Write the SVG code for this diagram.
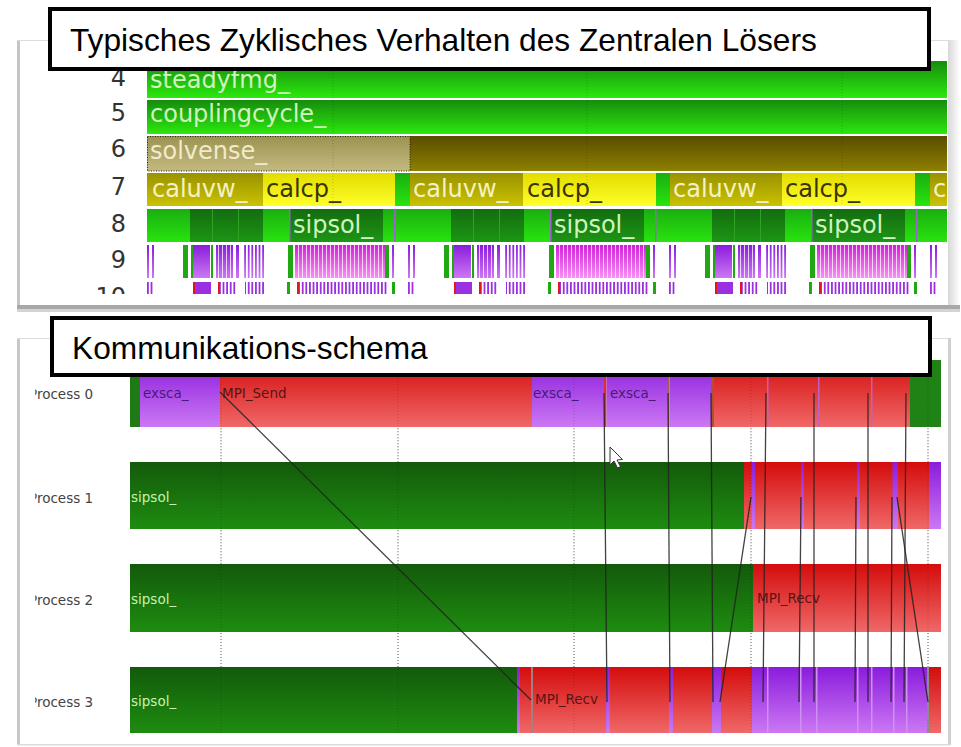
<svg xmlns="http://www.w3.org/2000/svg" width="961" height="747" viewBox="0 0 961 747">
<style>
  .title { font-family: "Liberation Sans", Arial, sans-serif; font-size: 31.7px; fill: #000; }
  .tbox { fill: #fff; stroke: #000; stroke-width: 4; }
  .num { font-family: "DejaVu Sans", sans-serif; font-size: 24px; fill: #333; text-anchor: end; }
  .bl { font-family: "DejaVu Sans", sans-serif; font-size: 24px; }
  .lg { fill: #cff5bf; }
  .lk { fill: #efebcc; }
  .ly { fill: #f4f2c4; }
  .ld { fill: #3a3400; }
  .pl { font-family: "DejaVu Sans", sans-serif; font-size: 13.5px; fill: #444; }
  .sl { font-family: "DejaVu Sans", sans-serif; font-size: 13.5px; }
  .sg { fill: #c8f0b0; }
  .sp { fill: #4a1a78; }
  .sr { fill: #5a1414; }
  .grid { stroke: #777; stroke-width: 1; stroke-dasharray: 1 2; }
  .gridf { stroke: #000; stroke-width: 1; stroke-dasharray: 1 2; opacity: 0.18; }
  .msg line { stroke: #222; stroke-width: 1.3; opacity: 0.85; }
</style>
<defs>
  <linearGradient id="gBright" x1="0" y1="0" x2="0" y2="1"><stop offset="0" stop-color="#178c0c"/><stop offset="1" stop-color="#2be80e"/></linearGradient>
  <linearGradient id="gOlive" x1="0" y1="0" x2="0" y2="1"><stop offset="0" stop-color="#5a4c00"/><stop offset="1" stop-color="#8e8000"/></linearGradient>
  <linearGradient id="gKhaki" x1="0" y1="0" x2="0" y2="1"><stop offset="0" stop-color="#9c9250"/><stop offset="1" stop-color="#c4ba80"/></linearGradient>
  <linearGradient id="gCaluvw" x1="0" y1="0" x2="0" y2="1"><stop offset="0" stop-color="#9a9200"/><stop offset="1" stop-color="#cac200"/></linearGradient>
  <linearGradient id="gCalcp" x1="0" y1="0" x2="0" y2="1"><stop offset="0" stop-color="#e2dc00"/><stop offset="1" stop-color="#ffff2a"/></linearGradient>
  <linearGradient id="gLime" x1="0" y1="0" x2="0" y2="1"><stop offset="0" stop-color="#1aae10"/><stop offset="1" stop-color="#28e40e"/></linearGradient>
  <linearGradient id="gDark" x1="0" y1="0" x2="0" y2="1"><stop offset="0" stop-color="#136c10"/><stop offset="1" stop-color="#1c9614"/></linearGradient>
  <linearGradient id="gPurple" x1="0" y1="0" x2="0" y2="1"><stop offset="0" stop-color="#8a1cdc"/><stop offset="1" stop-color="#cc78f4"/></linearGradient>
  <linearGradient id="gMagenta" x1="0" y1="0" x2="0" y2="1"><stop offset="0" stop-color="#d020d8"/><stop offset="1" stop-color="#f890f4"/></linearGradient>
  <linearGradient id="gRed" x1="0" y1="0" x2="0" y2="1"><stop offset="0" stop-color="#d40c0c"/><stop offset="1" stop-color="#f06868"/></linearGradient>
  <linearGradient id="gSip" x1="0" y1="0" x2="0" y2="1"><stop offset="0" stop-color="#135a0b"/><stop offset="1" stop-color="#1e8c10"/></linearGradient>
  <linearGradient id="gEdge" x1="0" y1="0" x2="1" y2="0"><stop offset="0" stop-color="#d8d8d8"/><stop offset="1" stop-color="#ffffff"/></linearGradient>

  <pattern id="gaps" width="4" height="10" patternUnits="userSpaceOnUse"><rect x="3" y="0" width="1" height="10" fill="#fff" opacity="0.75"/></pattern>
  <pattern id="gapsWide" width="3.6" height="10" patternUnits="userSpaceOnUse"><rect x="1.8" y="0" width="1.8" height="10" fill="#fff"/></pattern>

  <clipPath id="clipTrace"><rect x="147" y="56" width="800" height="238"/></clipPath>
  <clipPath id="clipNums"><rect x="60" y="56" width="80" height="238"/></clipPath>
  <clipPath id="clipProc"><rect x="35.2" y="340" width="90" height="400"/></clipPath>

  <!-- one solver cycle of rows 8-10, placed once per cycle -->
  <g id="cycle">
    <!-- row 8 -->
    <rect x="43" y="209" width="73" height="33" fill="url(#gDark)"/>
    <rect x="65" y="209" width="1" height="33" fill="#32a224"/>
    <rect x="91" y="209" width="1" height="33" fill="#32a224"/>
    <rect x="143" y="209" width="93" height="33" fill="url(#gDark)"/>
    <rect x="142" y="209" width="1.5" height="33" fill="#a060d0"/>
    <rect x="247" y="209" width="1.5" height="33" fill="#a060d0"/>
    <text x="146" y="233" class="bl lg">sipsol_</text>
    <!-- row 9 -->
    <rect x="0" y="245" width="2" height="33" fill="url(#gPurple)"/>
    <rect x="5" y="245" width="2" height="33" fill="url(#gPurple)"/>
    <rect x="36" y="245" width="5" height="33" fill="#20a812"/>
    <rect x="44" y="245" width="2" height="33" fill="#20a812"/>
    <rect x="46" y="245" width="17" height="33" fill="url(#gPurple)"/>
    <rect x="64" y="245" width="2" height="33" fill="#20a812"/>
    <rect x="69" y="245" width="17" height="33" fill="url(#gPurple)"/>
    <rect x="69" y="245" width="17" height="33" fill="url(#gaps)"/>
    <rect x="89" y="245" width="3" height="33" fill="url(#gPurple)"/>
    <rect x="97" y="245" width="21" height="33" fill="url(#gPurple)"/>
    <rect x="97" y="245" width="21" height="33" fill="url(#gapsWide)"/>
    <rect x="141" y="245" width="5" height="33" fill="#20a812"/>
    <rect x="148" y="245" width="90" height="33" fill="url(#gMagenta)"/>
    <rect x="148" y="245" width="90" height="33" fill="url(#gaps)"/>
    <rect x="238" y="245" width="4" height="33" fill="#20a812"/>
    <rect x="245" y="245" width="2" height="33" fill="url(#gPurple)"/>
    <!-- row 10 -->
    <rect x="0" y="282" width="7" height="14" fill="#9a30e0"/>
    <rect x="0" y="282" width="7" height="14" fill="url(#gapsWide)"/>
    <rect x="46" y="282" width="18" height="14" fill="#9a30e0"/>
    <rect x="46" y="282" width="2" height="14" fill="#e01818"/>
    <rect x="71" y="282" width="18" height="14" fill="#9a30e0"/>
    <rect x="71" y="282" width="18" height="14" fill="url(#gapsWide)"/>
    <rect x="71" y="282" width="2" height="14" fill="#e01818"/>
    <rect x="98" y="282" width="20" height="14" fill="#9a30e0"/>
    <rect x="98" y="282" width="20" height="14" fill="url(#gapsWide)"/>
    <rect x="140" y="282" width="3" height="14" fill="#20a812"/>
    <rect x="150" y="282" width="91" height="14" fill="#9a30e0"/>
    <rect x="150" y="282" width="91" height="14" fill="url(#gapsWide)"/>
    <rect x="150" y="282" width="2" height="14" fill="#e01818"/>
    <rect x="245" y="282" width="3" height="14" fill="#20a812"/>
  </g>
</defs>

<rect x="0" y="0" width="961" height="747" fill="#fff"/>

<!-- ===== upper panel: call-stack timeline ===== -->
<g id="panel-trace">
  <rect x="17" y="40" width="931" height="266" fill="#fff"/>
  <rect x="17" y="40" width="3" height="267" fill="#c4c4c4"/>
  <rect x="17" y="40" width="931" height="1" fill="#dcdcdc"/>
  <rect x="948" y="40" width="12" height="267" fill="url(#gEdge)"/>
  <rect x="17" y="305" width="943" height="4" fill="#a8a8a8"/>
  <rect x="17" y="309" width="943" height="3" fill="#d4d4d4"/>
</g>

<g id="depth-labels" clip-path="url(#clipNums)">
  <text x="126" y="86" class="num">4</text>
  <text x="126" y="121" class="num">5</text>
  <text x="126" y="157" class="num">6</text>
  <text x="126" y="195" class="num">7</text>
  <text x="126" y="232" class="num">8</text>
  <text x="126" y="268" class="num">9</text>
  <text x="126" y="305" class="num">10</text>
</g>

<g id="trace-rows" clip-path="url(#clipTrace)">
  <g id="row-4">
    <rect x="147" y="61" width="800" height="37" fill="url(#gBright)"/>
    <text x="150" y="88" class="bl lg">steadyfmg_</text>
  </g>
  <g id="row-5">
    <rect x="147" y="100" width="800" height="34" fill="url(#gBright)"/>
    <text x="150" y="122" class="bl lg">couplingcycle_</text>
  </g>
  <g id="row-6">
    <rect x="147" y="136" width="800" height="35" fill="url(#gOlive)"/>
    <rect x="147" y="136" width="263" height="35" fill="url(#gKhaki)"/>
    <rect x="147.5" y="136.5" width="262.5" height="34.5" fill="none" stroke="#222" stroke-width="1" stroke-dasharray="1 1.5"/>
    <text x="150" y="159" class="bl lk">solvense_</text>
  </g>
  <g id="row-7">
    <rect x="147" y="173" width="116" height="33" fill="url(#gCaluvw)"/>
    <rect x="263" y="173" width="132" height="33" fill="url(#gCalcp)"/>
    <rect x="395" y="173" width="15" height="33" fill="url(#gLime)"/>
    <rect x="410" y="173" width="113" height="33" fill="url(#gCaluvw)"/>
    <rect x="523" y="173" width="133" height="33" fill="url(#gCalcp)"/>
    <rect x="656" y="173" width="14" height="33" fill="url(#gLime)"/>
    <rect x="670" y="173" width="112" height="33" fill="url(#gCaluvw)"/>
    <rect x="782" y="173" width="133" height="33" fill="url(#gCalcp)"/>
    <rect x="915" y="173" width="15" height="33" fill="url(#gLime)"/>
    <rect x="930" y="173" width="17" height="33" fill="url(#gCaluvw)"/>
    <text x="152" y="197" class="bl ly">caluvw_</text>
    <text x="266" y="197" class="bl ld">calcp_</text>
    <text x="413" y="197" class="bl ly">caluvw_</text>
    <text x="527" y="197" class="bl ld">calcp_</text>
    <text x="673" y="197" class="bl ly">caluvw_</text>
    <text x="785" y="197" class="bl ld">calcp_</text>
    <text x="933" y="197" class="bl ly">c</text>
  </g>
  <g id="rows-8-10">
    <rect x="147" y="209" width="800" height="33" fill="url(#gLime)"/>
    <use href="#cycle" x="147"/>
    <use href="#cycle" x="408"/>
    <use href="#cycle" x="669"/>
    <use href="#cycle" x="930"/>
  </g>
  <g id="trace-grid">
    <line x1="333" y1="62" x2="333" y2="206" class="gridf"/>
    <line x1="587" y1="62" x2="587" y2="206" class="gridf"/>
    <line x1="842" y1="62" x2="842" y2="206" class="gridf"/>
  </g>
</g>

<g id="title-trace">
  <rect x="50" y="9" width="879" height="60" class="tbox"/>
  <text x="70" y="51" class="title">Typisches Zyklisches Verhalten des Zentralen Lösers</text>
</g>

<!-- ===== lower panel: process timelines ===== -->
<g id="panel-comm">
  <rect x="17" y="338" width="933" height="407" fill="#fff"/>
  <rect x="17" y="338" width="3" height="407" fill="#c8c8c8"/>
  <rect x="17" y="338" width="933" height="1" fill="#dcdcdc"/>
  <rect x="948" y="338" width="3" height="407" fill="#d0d0d0"/>
  <rect x="17" y="744" width="933" height="1.5" fill="#dcdcdc"/>
</g>

<g id="process-labels" clip-path="url(#clipProc)">
  <text x="29" y="399" class="pl">Process 0</text>
  <text x="29" y="503" class="pl">Process 1</text>
  <text x="29" y="605" class="pl">Process 2</text>
  <text x="29" y="707" class="pl">Process 3</text>
</g>

<g id="gaps-grid">
  <line x1="221" y1="428" x2="221" y2="462" class="grid"/>
  <line x1="398" y1="428" x2="398" y2="462" class="grid"/>
  <line x1="574" y1="428" x2="574" y2="462" class="grid"/>
  <line x1="751" y1="428" x2="751" y2="462" class="grid"/>
  <line x1="928" y1="428" x2="928" y2="462" class="grid"/>
  <line x1="221" y1="530" x2="221" y2="564" class="grid"/>
  <line x1="398" y1="530" x2="398" y2="564" class="grid"/>
  <line x1="574" y1="530" x2="574" y2="564" class="grid"/>
  <line x1="751" y1="530" x2="751" y2="564" class="grid"/>
  <line x1="928" y1="530" x2="928" y2="564" class="grid"/>
  <line x1="221" y1="633" x2="221" y2="667" class="grid"/>
  <line x1="398" y1="633" x2="398" y2="667" class="grid"/>
  <line x1="574" y1="633" x2="574" y2="667" class="grid"/>
  <line x1="751" y1="633" x2="751" y2="667" class="grid"/>
  <line x1="928" y1="633" x2="928" y2="667" class="grid"/>
</g>

<g id="process-0">
  <rect x="130" y="360" width="10" height="67" fill="#1e7a14"/>
  <rect x="140" y="360" width="80" height="67" fill="url(#gPurple)"/>
  <rect x="220" y="360" width="312" height="67" fill="url(#gRed)"/>
  <rect x="532" y="360" width="72" height="67" fill="url(#gPurple)"/>
  <rect x="604" y="360" width="2.5" height="67" fill="#d83030"/>
  <rect x="606.5" y="360" width="61.5" height="67" fill="url(#gPurple)"/>
  <rect x="668" y="360" width="1.5" height="67" fill="#a06040"/>
  <rect x="669.5" y="360" width="41.5" height="67" fill="url(#gPurple)"/>
  <rect x="711" y="360" width="199" height="67" fill="url(#gRed)"/>
  <rect x="711" y="360" width="3" height="67" fill="#b05030"/>
  <rect x="767" y="360" width="1.5" height="67" fill="#c060c0"/>
  <rect x="818" y="360" width="1.5" height="67" fill="#c060c0"/>
  <rect x="871" y="360" width="1.5" height="67" fill="#c060c0"/>
  <rect x="910" y="360" width="31" height="67" fill="#1e8214"/>
  <text x="143" y="398" class="sl sp">exsca_</text>
  <text x="222" y="398" class="sl sr">MPI_Send</text>
  <text x="533" y="398" class="sl sp">exsca_</text>
  <text x="610" y="398" class="sl sp">exsca_</text>
</g>

<g id="process-1">
  <rect x="130" y="462" width="614" height="67" fill="url(#gSip)"/>
  <rect x="744" y="462" width="197" height="67" fill="url(#gRed)"/>
  <rect x="751.5" y="462" width="3.5" height="67" fill="url(#gPurple)"/>
  <rect x="801" y="462" width="3" height="67" fill="url(#gPurple)"/>
  <rect x="857" y="462" width="3" height="67" fill="url(#gPurple)"/>
  <rect x="892.5" y="462" width="5.5" height="67" fill="url(#gPurple)"/>
  <rect x="929" y="462" width="12" height="67" fill="url(#gPurple)"/>
  <text x="131" y="502" class="sl sg">sipsol_</text>
</g>

<g id="process-2">
  <rect x="130" y="564" width="623" height="68" fill="url(#gSip)"/>
  <rect x="753" y="564" width="188" height="68" fill="url(#gRed)"/>
  <text x="757" y="603" class="sl sr">MPI_Recv</text>
  <text x="131" y="604" class="sl sg">sipsol_</text>
</g>

<g id="process-3">
  <rect x="130" y="667" width="387" height="66" fill="url(#gSip)"/>
  <rect x="517" y="667" width="424" height="66" fill="url(#gRed)"/>
  <rect x="517" y="667" width="3" height="66" fill="url(#gPurple)"/>
  <rect x="531" y="667" width="2" height="66" fill="#a08080"/>
  <rect x="606" y="667" width="4" height="66" fill="url(#gPurple)"/>
  <rect x="669" y="667" width="4" height="66" fill="url(#gPurple)"/>
  <rect x="712" y="667" width="9" height="66" fill="url(#gPurple)"/>
  <rect x="752" y="667" width="176" height="66" fill="url(#gPurple)"/>
  <rect x="767" y="667" width="1.5" height="66" fill="#d090f0"/>
  <rect x="800" y="667" width="1.5" height="66" fill="#d090f0"/>
  <rect x="816" y="667" width="1.5" height="66" fill="#d090f0"/>
  <rect x="857" y="667" width="1.5" height="66" fill="#d090f0"/>
  <rect x="871" y="667" width="1.5" height="66" fill="#d090f0"/>
  <rect x="893" y="667" width="1.5" height="66" fill="#d090f0"/>
  <rect x="906" y="667" width="1.5" height="66" fill="#d090f0"/>
  <rect x="927" y="667" width="2" height="66" fill="#909090"/>
  <text x="131" y="706" class="sl sg">sipsol_</text>
  <text x="535" y="704" class="sl sr">MPI_Recv</text>
</g>

<g id="bar-grid">
  <line x1="221" y1="360" x2="221" y2="733" class="gridf"/>
  <line x1="398" y1="360" x2="398" y2="733" class="gridf"/>
  <line x1="574" y1="360" x2="574" y2="733" class="gridf"/>
  <line x1="751" y1="360" x2="751" y2="733" class="gridf"/>
  <line x1="928" y1="360" x2="928" y2="733" class="gridf"/>
</g>

<g id="messages" class="msg">
  <line x1="220" y1="392" x2="531" y2="700"/>
  <line x1="604" y1="393" x2="607" y2="702"/>
  <line x1="668" y1="393" x2="670" y2="702"/>
  <line x1="711" y1="393" x2="713" y2="702"/>
  <line x1="766" y1="393" x2="763" y2="702"/>
  <line x1="814" y1="393" x2="814" y2="702"/>
  <line x1="868" y1="393" x2="868" y2="702"/>
  <line x1="906" y1="393" x2="904" y2="702"/>
  <line x1="751" y1="497" x2="720" y2="702"/>
  <line x1="801" y1="497" x2="799" y2="702"/>
  <line x1="856" y1="497" x2="855" y2="702"/>
  <line x1="892" y1="497" x2="891" y2="702"/>
  <line x1="897" y1="497" x2="928" y2="702"/>
</g>

<g id="pointer">
  <polygon points="610,447 610,465 614,461 617.5,468 620.5,466.5 617,460 622.5,459.5" fill="#fff" stroke="#333" stroke-width="1"/>
</g>

<g id="title-comm">
  <rect x="52" y="318" width="878" height="57" class="tbox"/>
  <text x="72" y="359" class="title">Kommunikations-schema</text>
</g>
</svg>
